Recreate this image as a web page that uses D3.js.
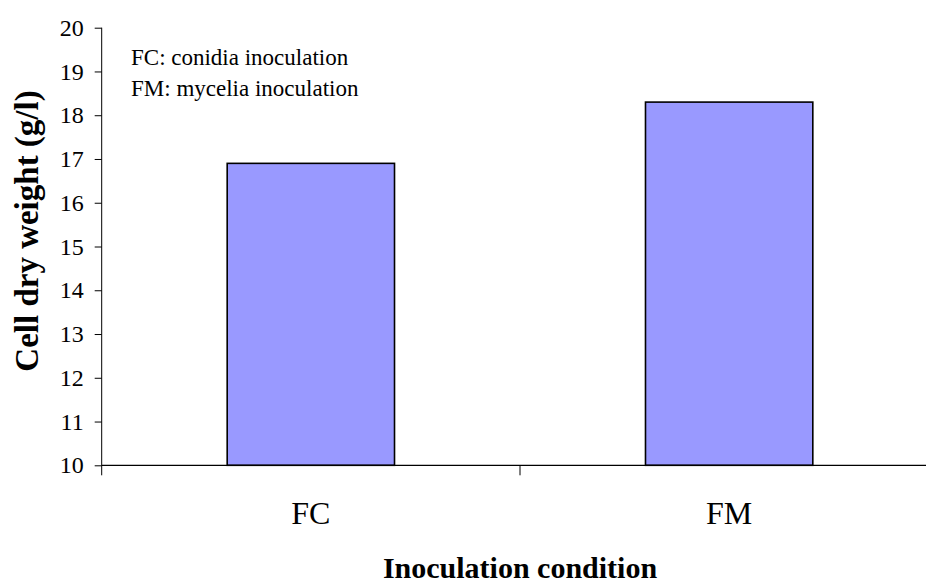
<!DOCTYPE html>
<html>
<head>
<meta charset="utf-8">
<script src="https://cdn.jsdelivr.net/npm/d3@7"></script>
<style>
  html, body { margin: 0; padding: 0; background: #fff; }
  svg { display: block; }
  text { font-family: "Liberation Serif", "Times New Roman", serif; fill: #000; }
</style>
</head>
<body>
<svg id="chart" width="926" height="584"></svg>
<script>
const categories = ["FC", "FM"];
const values = [16.9, 18.3];
const yTicks = [10, 11, 12, 13, 14, 15, 16, 17, 18, 19, 20];
const legendLines = ["FC: conidia inoculation", "FM: mycelia inoculation"];
const yTitle = "Cell dry weight (g/l)";
const xTitle = "Inoculation condition";

const svg = d3.select("#chart");
const pL = 101.7, pT = 27.7, pB = 465.3, pR = 938.3;
const serif = "'Liberation Serif', 'Times New Roman', serif";

const y = d3.scaleLinear().domain([10, 20]).range([pB, pT]);
const x = d3.scaleBand().domain(categories).range([pL, pR]).padding(0);
const barW = x.bandwidth() * 0.4;

// bars
svg.append("g").selectAll("rect").data(categories).join("rect")
  .attr("x", (d) => x(d) + (x.bandwidth() - barW) / 2)
  .attr("y", (d, i) => y(values[i]))
  .attr("width", barW)
  .attr("height", (d, i) => y(10) - y(values[i]))
  .attr("fill", "#9999ff")
  .attr("stroke", "#000")
  .attr("stroke-width", 1.6);

// y axis
const yAxis = d3.axisLeft(y).tickValues(yTicks).tickSize(7).tickPadding(11).tickFormat(d3.format("d"));
const gy = svg.append("g").attr("transform", `translate(${pL},0)`).call(yAxis)
  .attr("font-family", serif).attr("font-size", 24);
gy.select(".domain").remove();
gy.selectAll(".tick line").attr("stroke", "#000").attr("stroke-width", 1);
gy.selectAll(".tick text").style("font-family", serif).style("font-size", "24px").attr("fill", "#000");
svg.append("line").attr("x1", pL).attr("x2", pL).attr("y1", pT).attr("y2", pB + 10)
  .attr("stroke", "#000").attr("stroke-width", 1);

// x axis
const xAxis = d3.axisBottom(x).tickSize(0).tickPadding(36);
const gx = svg.append("g").attr("transform", `translate(0,${pB})`).call(xAxis)
  .attr("font-family", serif).attr("font-size", 32);
gx.select(".domain").remove();
gx.selectAll(".tick text").style("font-family", serif).style("font-size", "32px").attr("fill", "#000");
svg.append("line").attr("x1", pL).attr("x2", pR).attr("y1", pB).attr("y2", pB)
  .attr("stroke", "#000").attr("stroke-width", 1.3);
// category boundary ticks
const bounds = categories.map((c) => x(c)).concat([x(categories[categories.length - 1]) + x.bandwidth()]);
svg.append("g").selectAll("line").data(bounds.slice(1)).join("line")
  .attr("x1", (d) => d).attr("x2", (d) => d)
  .attr("y1", pB).attr("y2", pB + 10)
  .attr("stroke", "#000").attr("stroke-width", 1);

// legend text
svg.append("g").selectAll("text").data(legendLines).join("text")
  .attr("x", 131).attr("y", (d, i) => 65 + i * 30.5)
  .style("font-family", serif)
  .style("font-size", "23px")
  .text((d) => d);

// axis titles
svg.append("text")
  .attr("transform", `translate(38,231) rotate(-90)`)
  .attr("text-anchor", "middle")
  .style("font-family", serif)
  .style("font-size", "33px").style("font-weight", "bold")
  .text(yTitle);

svg.append("text")
  .attr("x", (pL + pR) / 2).attr("y", 578)
  .attr("text-anchor", "middle")
  .style("font-family", serif)
  .style("font-size", "30px").style("font-weight", "bold")
  .text(xTitle);
</script>
</body>
</html>
